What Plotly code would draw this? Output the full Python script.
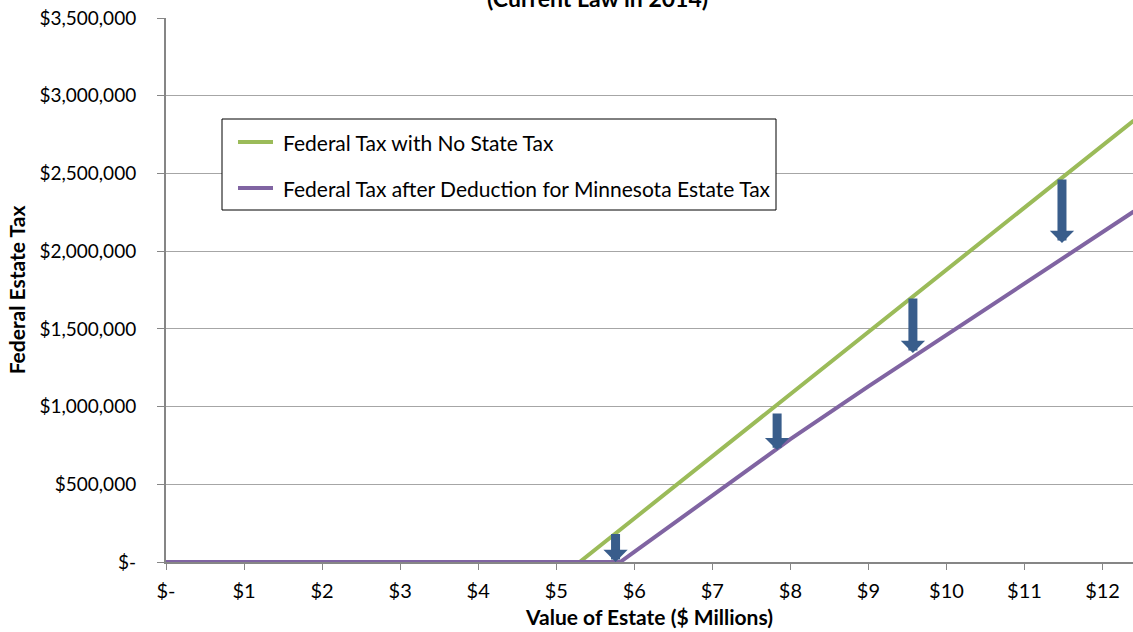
import plotly.graph_objects as go

# Value of estate ($ millions) and federal estate tax ($)
green_x = [0, 5.3, 6, 7, 8, 9, 10, 11, 12, 12.4]
green_y = [0, 0, 280000, 680000, 1080000, 1480000, 1880000, 2280000, 2680000, 2840000]

purple_x = [0, 5.82, 6, 7, 8, 9, 10, 11, 12, 12.4]
purple_y = [0, 0, 65000, 430000, 790000, 1130000, 1460000, 1790000, 2120000, 2255000]

# Downward arrows showing the reduction from the Minnesota deduction
arrow_x = [5.76, 7.83, 9.57, 11.48]
arrow_top = [190000, 965000, 1705000, 2470000]
arrow_tip = [0, 720000, 1345000, 2053000]

x_ticks = list(range(0, 13))
x_labels = ["$-"] + [f"${v}" for v in range(1, 13)]
y_ticks = [0, 500000, 1000000, 1500000, 2000000, 2500000, 3000000, 3500000]
y_labels = ["$-", "$500,000", "$1,000,000", "$1,500,000", "$2,000,000",
            "$2,500,000", "$3,000,000", "$3,500,000"]

series_names = ["Federal Tax with No State Tax",
                "Federal Tax after Deduction for Minnesota Estate Tax"]

FONT = "Lato"
GREEN = "#9BBB59"
PURPLE = "#8064A2"
ARROW = "#395D8B"

W, H = 1133, 632
L, R, T, B = 166, 0, 18, 70
PW, PH = W - L - R, H - T - B


def px(xp):
    return (xp - L) / PW


def py(yp):
    return (H - B - yp) / PH


fig = go.Figure()
fig.add_trace(go.Scatter(x=green_x, y=green_y, mode="lines",
                         line=dict(color=GREEN, width=4),
                         name=series_names[0], showlegend=False))
fig.add_trace(go.Scatter(x=purple_x, y=purple_y, mode="lines",
                         line=dict(color=PURPLE, width=4),
                         name=series_names[1], showlegend=False))

for ax_, top, tip in zip(arrow_x, arrow_top, arrow_tip):
    fig.add_annotation(x=ax_, y=tip, ax=ax_, ay=top, xref="x", yref="y",
                       axref="x", ayref="y", showarrow=True, text="",
                       arrowhead=1, arrowsize=0.45, arrowwidth=9,
                       arrowcolor=ARROW, standoff=0)

# Legend box drawn by hand
shapes = [dict(type="rect", xref="paper", yref="paper",
               x0=px(222), x1=px(776), y0=py(210), y1=py(119),
               line=dict(color="black", width=1), fillcolor="white", layer="above")]
for color, yrow in zip([GREEN, PURPLE], [142, 188]):
    shapes.append(dict(type="line", xref="paper", yref="paper",
                       x0=px(238), x1=px(273), y0=py(yrow), y1=py(yrow),
                       line=dict(color=color, width=4), layer="above"))
fig.update_layout(shapes=shapes)
for name, yrow in zip(series_names, [142, 188]):
    fig.add_annotation(text=name, xref="paper", yref="paper", x=px(281), y=py(yrow),
                       xanchor="left", yanchor="middle", showarrow=False,
                       font=dict(family=FONT, size=21, color="black"))

fig.add_annotation(text="<b>(Current Law in 2014)</b>", xref="paper", yref="paper",
                   x=px(597), y=py(14), xanchor="center",
                   yanchor="bottom", showarrow=False,
                   font=dict(family=FONT, size=23, color="black"))

fig.update_layout(
    width=W, height=H,
    margin=dict(l=L, r=R, t=T, b=B),
    paper_bgcolor="white", plot_bgcolor="white",
    font=dict(family=FONT, size=19, color="black"),
    showlegend=False,
    xaxis=dict(range=[0, 12.39], tickvals=x_ticks, ticktext=x_labels,
               showgrid=False, showline=True, linecolor="#868686", linewidth=2,
               ticks="outside", ticklen=6, tickcolor="#868686", zeroline=False,
               ticklabelstandoff=4,
               tickfont=dict(family=FONT, size=20),
               title=dict(text="<b>Value of Estate ($ Millions)</b>",
                          font=dict(family=FONT, size=21), standoff=9)),
    yaxis=dict(range=[0, 3500000], tickvals=y_ticks, ticktext=y_labels,
               showgrid=True, gridcolor="#A6A6A6", gridwidth=1,
               showline=True, linecolor="#868686", linewidth=2,
               ticks="outside", ticklen=7, tickcolor="#868686", zeroline=False,
               ticklabelstandoff=17,
               tickfont=dict(family=FONT, size=19),
               title=dict(text="<b>Federal Estate Tax</b>",
                          font=dict(family=FONT, size=21), standoff=8)),
)

fig.write_html("out.html")
